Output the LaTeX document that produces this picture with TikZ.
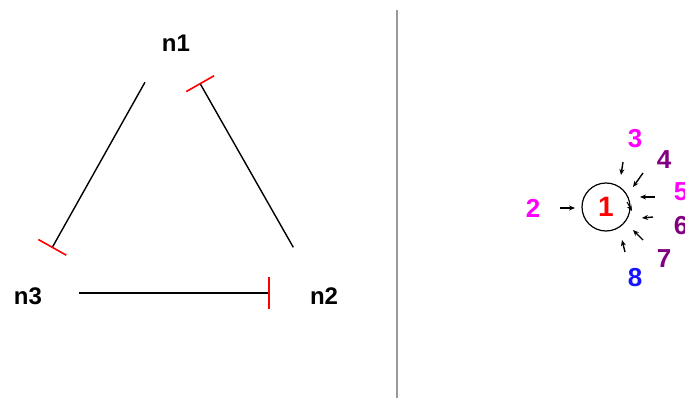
\documentclass[tikz,border=0pt]{standalone}
\usepackage{fontspec}
\setmainfont{Liberation Sans}
\usetikzlibrary{arrows.meta}

\definecolor{regmagenta}{RGB}{255,0,255}
\definecolor{regpurple}{RGB}{128,0,128}
\definecolor{regblue}{RGB}{20,20,255}

\tikzset{
    net gene/.style={inner sep=0pt, font=\fontsize{24}{28}\selectfont\bfseries},
    net inhib/.style={line width=1.4pt, black,
                      -{Bar[color=red, width=32pt, line width=1.6pt]}},
    reg hub/.style={circle, draw=black, line width=1.2pt, minimum size=48pt,
                    inner sep=0pt, text=red,
                    font=\fontsize{28}{32}\selectfont\bfseries},
    reg label/.style={inner sep=0pt, font=\fontsize{26}{30}\selectfont\bfseries},
    reg pin/.style={line width=1.4pt, -{Stealth[length=6pt, width=5pt]}},
    divider/.style={line width=2pt, black!40},
}

\begin{document}
\begin{tikzpicture}[x=1pt, y=-1pt]
    \useasboundingbox (0,0) rectangle (685,398);
    % Left panel: three genes in a ring
    \node[net gene] (n1) at (176,43) {n1};
    \node[net gene] (n2) at (324,296) {n2};
    \node[net gene] (n3) at (28,296) {n3};
    \draw[net inhib, shorten <=45pt, shorten >=55pt]
        ([xshift=-9pt]n1.center) -- ([xshift=-3pt]n3.center);
    \draw[net inhib, shorten <=56pt, shorten >=46pt]
        ([xshift=-3pt]n2.center) -- ([xshift=1pt]n1.center);
    \draw[net inhib, shorten <=51pt, shorten >=54.5pt]
        ([yshift=3pt]n3.center) -- ([yshift=3pt]n2.center);
    % Divider
    \draw[divider] (397,10) -- (397,398);
    % Right panel: node 1 and its inputs
    \node[reg hub] (one) at (606,207) {1};
    \node[reg label, text=regmagenta] (l2) at (533,208) {2};
    \node[reg label, text=regmagenta] (l3) at (635,139) {3};
    \node[reg label, text=regpurple]  (l4) at (664,160) {4};
    \node[reg label, text=regmagenta] (l5) at (681,192) {5};
    \node[reg label, text=regpurple]  (l6) at (681,226) {6};
    \node[reg label, text=regpurple]  (l7) at (664,259) {7};
    \node[reg label, text=regblue]    (l8) at (635,278) {8};
    \draw[reg pin] (l2.center) ++(27,0) -- ++(15,0);
    \draw[reg pin] (l3.center) ++(-12,23) -- ++(-2,13);
    \draw[reg pin] (l4.center) ++(-21,13) -- ++(-10,14);
    \draw[reg pin] (l5.center) ++(-26,5) -- ++(-15,0);
    \draw[reg pin] (l6.center) ++(-28,-9) -- ++(-11,1);
    \draw[reg pin] (l7.center) ++(-21,-19) -- ++(-10,-10);
    \draw[reg pin] (l8.center) ++(-10,-26) -- ++(-3,-12);
    \draw[reg pin, line width=1pt] (one.center) ++(21,-5) -- ++(5,9);
\end{tikzpicture}
\end{document}
